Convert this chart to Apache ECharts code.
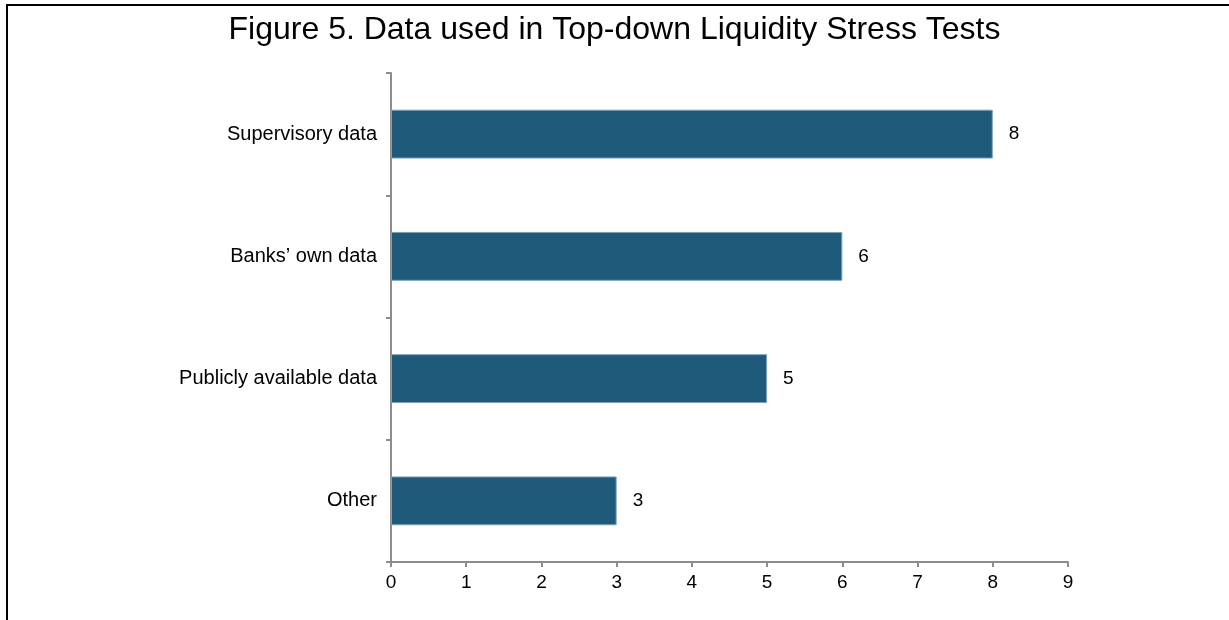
<!DOCTYPE html>
<html>
<head>
<meta charset="utf-8">
<script src="https://cdn.jsdelivr.net/npm/echarts@6/dist/echarts.min.js"></script>
<style>
	html, body { margin: 0; padding: 0; background: #fff; }
	#chart { width: 1229px; height: 620px; }
</style>
</head>
<body>
<div id="chart"></div>
<script>
	// categories from bottom to top (category y axis starts at the bottom)
	var categories = ['Other', 'Publicly available data', 'Banks\u2019 own data', 'Supervisory data'];
	var counts = [3, 5, 6, 8];
	var xTicks = [0, 1, 2, 3, 4, 5, 6, 7, 8, 9];

	var chart = echarts.init(document.getElementById('chart'));
	var font = 'Arial, "Liberation Sans", sans-serif';

	chart.setOption({
		animation: false,
		textStyle: { fontFamily: font },
		title: {
			text: 'Figure 5. Data used in Top-down Liquidity Stress Tests',
			left: 'center',
			top: 9,
			textStyle: { fontSize: 32, fontWeight: 'normal', color: '#000', fontFamily: font }
		},
		// outer frame of the figure
		graphic: [{
			type: 'rect',
			shape: { x: 7, y: 5, width: 1260, height: 660 },
			style: { fill: 'none', stroke: '#000', lineWidth: 2 },
			silent: true
		}],
		grid: { left: 391, right: 161, top: 73, bottom: 58 },
		xAxis: {
			type: 'value',
			min: xTicks[0],
			max: xTicks[xTicks.length - 1],
			interval: 1,
			splitLine: { show: false },
			axisLine: { show: true, lineStyle: { color: '#8c8c8c', width: 2 } },
			axisTick: { show: true, length: 5, lineStyle: { color: '#8c8c8c', width: 2 } },
			axisLabel: { color: '#000', fontSize: 19, margin: 11 }
		},
		yAxis: {
			type: 'category',
			data: categories,
			axisLine: { show: true, lineStyle: { color: '#8c8c8c', width: 2 } },
			axisTick: { show: true, length: 5, lineStyle: { color: '#8c8c8c', width: 2 } },
			axisLabel: { color: '#000', fontSize: 20, margin: 14 }
		},
		series: [{
			type: 'bar',
			data: counts,
			barWidth: '40%',
			itemStyle: { color: '#1f5a7a', borderColor: '#7fa3b8', borderWidth: 1 },
			label: { show: true, position: 'right', distance: 16, color: '#000', fontSize: 19 }
		}]
	});
</script>
</body>
</html>
